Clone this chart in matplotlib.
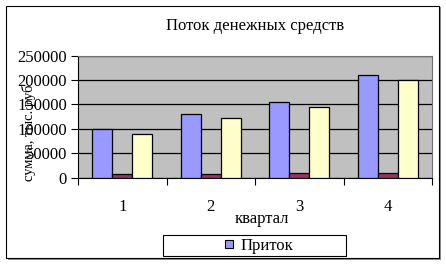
import matplotlib.pyplot as plt
import numpy as np
from matplotlib.patches import Rectangle
from matplotlib.lines import Line2D

# quarterly cash flow, thousand roubles
quarters = ["1", "2", "3", "4"]
inflow = [100000, 130000, 155000, 210000]
outflow = [8000, 8000, 10000, 10000]
balance = [90000, 122000, 145000, 200000]

BLUE = "#9999FF"
RED = "#993366"
YELLOW = "#FFFFCC"

plt.rcParams["font.family"] = ["Liberation Serif", "DejaVu Serif"]

fig = plt.figure(figsize=(4.46, 2.65), dpi=100)
fig.patch.set_facecolor("white")

# outer chart frame with shadow
fig.patches.append(Rectangle((8 / 446, 1 - 260 / 265), 433 / 446, 253 / 265,
                             transform=fig.transFigure, facecolor="#909090",
                             edgecolor="none", zorder=-3))
fig.patches.append(Rectangle((6 / 446, 1 - 258 / 265), 433 / 446, 252 / 265,
                             transform=fig.transFigure, facecolor="white",
                             edgecolor="black", linewidth=0.8, zorder=-2))

ax = fig.add_axes([78 / 446, 87.3 / 265, 354 / 446, 122 / 265])
ax.set_zorder(1)
ax.set_facecolor("#C0C0C0")

x = np.arange(len(quarters))
width = 0.226
for offset, values, color in [(-1, inflow, BLUE), (0, outflow, RED), (1, balance, YELLOW)]:
    ax.bar(x + offset * width, values, width, color=color, edgecolor="black",
           linewidth=0.9, zorder=3)

ax.set_xlim(-0.5, len(quarters) - 0.5)
ax.set_ylim(0, 250000)
ax.set_yticks(np.arange(0, 250001, 50000))
ax.set_yticklabels([str(v) for v in range(0, 250001, 50000)], fontsize=12)
ax.yaxis.grid(True, color="black", linewidth=0.9, zorder=1)
ax.set_axisbelow(True)

ax.set_xticks(np.arange(-0.5, len(quarters)), minor=False)
ax.set_xticklabels([])
ax.set_xticks(x, minor=True)
ax.set_xticklabels(quarters, minor=True, fontsize=12)
ax.tick_params(axis="x", which="major", direction="out", length=5, width=0.8)
ax.tick_params(axis="x", which="minor", length=0, pad=15)
ax.tick_params(axis="y", direction="out", length=5, width=0.8, pad=3)

ax.spines["left"].set_color("black")
ax.spines["bottom"].set_color("black")
ax.spines["top"].set_color("#707070")
ax.spines["right"].set_color("#707070")

fig.text(255 / 446, 1 - 26 / 265, "Поток денежных средств", ha="center",
         va="center", fontsize=12)
fig.text(29 / 446, 1 - 133 / 265, "сумма, тыс. руб", rotation=90, ha="center",
         va="center", fontsize=10.5)
fig.text(262 / 446, 1 - 219 / 265, "квартал", ha="center", va="center", fontsize=12)

# legend box (only first entry visible)
fig.patches.append(Rectangle((163 / 446, 1 - 256 / 265), 183 / 446, 21 / 265,
                             transform=fig.transFigure, facecolor="white",
                             edgecolor="black", linewidth=0.8, zorder=2))
handle = Line2D([], [], marker="s", linestyle="none", markersize=6,
                markerfacecolor=BLUE, markeredgecolor="black", markeredgewidth=0.8)
fig.legend([handle], ["Приток"], loc="center", bbox_to_anchor=(258 / 446, 1 - 246 / 265),
           frameon=False, fontsize=12, handlelength=0.8, handletextpad=0.3,
           borderpad=0)

fig.savefig("out.png", dpi=100)
